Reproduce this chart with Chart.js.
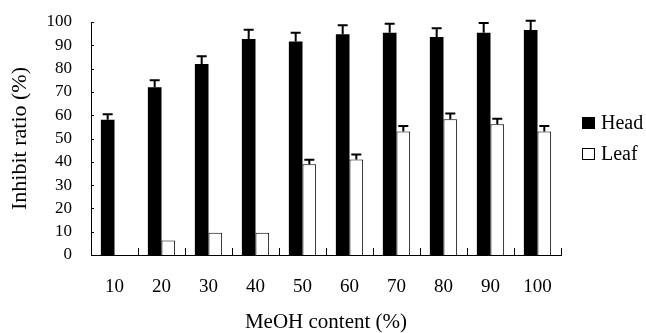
<!DOCTYPE html>
<html>
<head>
<meta charset="utf-8">
<script src="https://cdn.jsdelivr.net/npm/chart.js@4/dist/chart.umd.min.js"></script>
<style>
  html, body { margin: 0; padding: 0; background: #fff; }
  #wrap { width: 646px; height: 333px; position: relative; }
</style>
</head>
<body>
<div id="wrap"><canvas id="chart"></canvas></div>
<script>
const categories = ["10", "20", "30", "40", "50", "60", "70", "80", "90", "100"];
const headValues = [58, 72, 82, 92.7, 91.6, 94.7, 95.4, 93.6, 95.4, 96.6];
const headErrors = [2.4, 3, 3.3, 4, 3.8, 3.9, 3.9, 3.7, 4.2, 3.9];
const leafValues = [0, 6.2, 9.6, 9.6, 39, 41, 53, 58.3, 56.1, 53];
const leafErrors = [0, 0, 0, 0, 1.9, 2.1, 2.4, 2.4, 2.4, 2.4];
const yTicks = [0, 10, 20, 30, 40, 50, 60, 70, 80, 90, 100];

const serif = "'Liberation Serif', 'Times New Roman', serif";

// error bars, only the upper half
const errorBars = {
    id: 'errorBars',
    afterDatasetsDraw(chart) {
        const ctx = chart.ctx;
        const y = chart.scales.y;
        ctx.save();
        ctx.strokeStyle = '#000';
        ctx.lineWidth = 2;
        chart.data.datasets.forEach((ds, di) => {
            const meta = chart.getDatasetMeta(di);
            meta.data.forEach((bar, i) => {
                const err = ds.errors[i];
                if (!err) return;
                const top = y.getPixelForValue(ds.data[i] + err);
                ctx.beginPath();
                ctx.moveTo(bar.x, bar.y);
                ctx.lineTo(bar.x, top);
                ctx.moveTo(bar.x - 5, top);
                ctx.lineTo(bar.x + 5, top);
                ctx.stroke();
            });
        });
        ctx.restore();
    }
};

// small inward tick marks on both axes + legend on the right
const innerTicks = {
    id: 'innerTicks',
    afterDraw(chart) {
        const ctx = chart.ctx;
        const y = chart.scales.y;
        const area = chart.chartArea;
        ctx.save();
        ctx.strokeStyle = '#000';
        ctx.lineWidth = 1;
        ctx.beginPath();
        yTicks.forEach(v => {
            const py = Math.round(y.getPixelForValue(v)) + 0.5;
            ctx.moveTo(area.left, py);
            ctx.lineTo(area.left + 3, py);
        });
        const step = (area.right - area.left) / categories.length;
        for (let i = 1; i <= categories.length; i++) {
            const px = Math.round(area.left + step * i) + 0.5;
            ctx.moveTo(px, area.bottom);
            ctx.lineTo(px, area.bottom - 7);
        }
        ctx.stroke();

        // legend
        ctx.font = '20px ' + serif;
        ctx.textBaseline = 'middle';
        chart.data.datasets.forEach((ds, i) => {
            const cy = area.top + 101 + i * 31;
            const bx = area.right + 21;
            ctx.fillStyle = ds.backgroundColor;
            ctx.fillRect(bx, cy - 6, 13, 12);
            ctx.strokeStyle = '#000';
            ctx.strokeRect(bx + 0.5, cy - 5.5, 12, 11);
            ctx.fillStyle = '#000';
            ctx.fillText(ds.label, bx + 19, cy + 1);
        });
        ctx.restore();
    }
};

Chart.defaults.font.family = serif;
Chart.defaults.color = '#000';

new Chart(document.getElementById('chart').getContext('2d'), {
    type: 'bar',
    data: {
        labels: categories,
        datasets: [
            {
                label: 'Head',
                data: headValues,
                errors: headErrors,
                backgroundColor: '#000',
                borderColor: '#000',
                borderWidth: 0,
                categoryPercentage: 0.58,
                barPercentage: 1
            },
            {
                label: 'Leaf',
                data: leafValues,
                errors: leafErrors,
                backgroundColor: '#fff',
                borderColor: '#000',
                borderWidth: 1,
                categoryPercentage: 0.58,
                barPercentage: 1
            }
        ]
    },
    options: {
        responsive: true,
        maintainAspectRatio: false,
        animation: false,
        layout: { padding: { top: 0, right: 85, left: 0, bottom: 0 } },
        scales: {
            x: {
                grid: { display: false, drawTicks: false },
                border: { display: true, color: '#000', width: 1 },
                ticks: { font: { size: 19 }, padding: 21, maxRotation: 0 },
                title: {
                    display: true,
                    text: 'MeOH content (%)',
                    font: { size: 21, lineHeight: 1 },
                    padding: { top: 0, bottom: 0 }
                },
                afterFit: scale => { scale.height = 78; }
            },
            y: {
                min: 0,
                max: 100,
                grid: { display: false, drawTicks: false },
                border: { display: true, color: '#000', width: 1 },
                ticks: { stepSize: 10, autoSkip: false, font: { size: 17 }, padding: 19 },
                title: {
                    display: true,
                    text: 'Inhibit ratio (%)',
                    font: { size: 22, lineHeight: 1 },
                    padding: { top: 9, bottom: 0 }
                },
                afterFit: scale => { scale.width = 91; scale.paddingTop = 22; }
            }
        },
        plugins: {
            legend: { display: false },
            tooltip: { enabled: false }
        }
    },
    plugins: [errorBars, innerTicks]
});
</script>
</body>
</html>
